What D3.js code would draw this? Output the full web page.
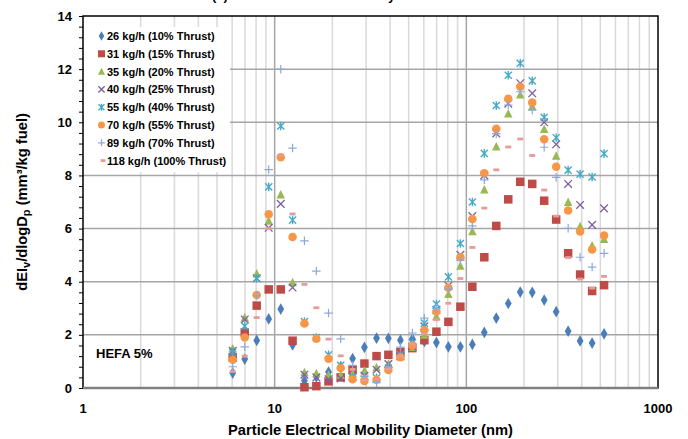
<!DOCTYPE html>
<html>
<head>
<meta charset="utf-8">
<script src="https://cdn.jsdelivr.net/npm/d3@7"></script>
<style>
  body { margin: 0; background: #fff; }
  svg text { font-family: Arial, "Liberation Sans", sans-serif; font-weight: bold; fill: #000; }
</style>
</head>
<body>
<svg id="chart"></svg>
<script>
// particle mobility diameter bins (nm), 16 per decade
const diam = [6.04, 6.98, 8.06, 9.31, 10.76, 12.4, 14.3, 16.5, 19.1, 22.1, 25.5, 29.4, 34.0, 39.2, 45.3, 52.3,
              60.4, 69.8, 80.6, 93.1, 107.5, 124.1, 143.3, 165.5, 191.1, 220.7, 254.8, 294.3, 339.8, 392.4, 453.2, 523.3];

// dEIv/dlogDp, one list per fuel flow
const s26  = [0.56,1.09,1.79,2.60,2.97,1.62,0.27,0.42,0.60,0.80,1.11,1.53,1.88,1.87,1.80,1.85,1.75,1.71,1.55,1.55,1.64,2.09,2.63,3.18,3.61,3.60,3.31,2.87,2.14,1.77,1.69,2.04];
const s31  = [1.15,2.09,3.10,3.71,3.71,1.78,0.03,0.07,0.25,0.40,0.68,0.92,1.20,1.25,1.35,1.50,1.80,2.12,2.49,3.06,3.81,4.92,6.10,7.10,7.76,7.68,7.05,6.34,5.07,4.27,3.65,3.87];
const s35  = [1.48,2.65,4.30,6.29,7.28,3.97,0.59,0.55,0.50,0.49,0.55,0.65,0.77,0.91,1.19,1.54,2.00,2.69,3.53,4.59,5.89,7.46,9.08,10.32,11.04,10.60,9.74,8.73,6.99,6.08,5.36,5.60];
const s40  = [1.40,2.58,4.13,6.03,6.93,3.78,0.50,0.40,0.33,0.36,0.42,0.46,0.69,0.90,1.20,1.56,2.32,2.94,3.85,5.01,6.47,8.00,9.58,10.70,11.47,11.09,10.00,9.17,7.68,6.89,6.14,6.76];
const s55  = [1.35,2.33,4.13,7.57,9.86,6.32,2.50,1.90,1.25,0.85,0.40,0.33,0.38,0.75,1.25,1.70,2.44,3.16,4.18,5.44,7.00,8.83,10.63,11.77,12.22,11.56,10.19,9.42,8.20,8.05,7.94,8.82];
const s70  = [1.06,1.90,3.50,6.54,8.68,5.68,2.43,1.85,1.10,0.75,0.33,0.26,0.31,0.68,1.16,1.60,2.17,2.88,3.77,4.92,6.36,8.08,9.76,10.89,11.34,10.74,9.36,8.33,6.68,5.89,5.21,5.74];
const s89  = [0.80,1.55,3.48,8.22,12.00,9.03,5.54,4.40,2.82,1.85,0.85,0.45,0.20,0.80,1.54,2.07,2.63,3.00,3.72,4.80,6.10,7.83,9.57,10.65,11.15,10.46,9.06,7.93,6.01,4.92,4.55,5.07];
const s118 = [0.62,1.20,2.65,6.00,8.76,6.55,3.90,3.02,1.84,1.21,0.70,0.30,0.35,0.71,1.21,1.66,2.05,2.57,3.19,4.12,5.29,6.77,8.21,9.07,9.37,8.75,7.45,6.47,4.91,4.10,3.76,4.20];

const seriesNames = ["26 kg/h (10% Thrust)", "31 kg/h (15% Thrust)", "35 kg/h (20% Thrust)", "40 kg/h (25% Thrust)",
                     "55 kg/h (40% Thrust)", "70 kg/h (55% Thrust)", "89 kg/h (70% Thrust)", "118 kg/h (100% Thrust)"];
const seriesValues = [s26, s31, s35, s40, s55, s70, s89, s118];
const seriesColors = ["#4A7EBB", "#BE4B48", "#98B954", "#7D60A0", "#46AAC5", "#F79646", "#8EA8DA", "#E59B9A"];
const seriesShapes = ["diamond", "square", "triangle", "x", "star", "circle", "plus", "dash"];

const xTicks = [1, 10, 100, 1000];
const yTicks = [0, 2, 4, 6, 8, 10, 12, 14];

const width = 688, height = 439;
const margin = {left: 83, right: 30, top: 16, bottom: 51};

const svg = d3.select("#chart").attr("width", width).attr("height", height);

const x = d3.scaleLog().domain([1, 1000]).range([margin.left, width - margin.right]);
const y = d3.scaleLinear().domain([0, 14]).range([height - margin.bottom, margin.top]);

// chart title, cut off by the top edge in the original as well
svg.append("text")
    .attr("x", 212).attr("y", 0)
    .style("font-size", "13px")
    .text("(a) Volume Emission Index by Size");

// gridlines
let grid = svg.append("g");
let minorX = [];
for (let dec of [1, 10, 100]) for (let m = 2; m <= 9; m++) minorX.push(dec * m);
grid.selectAll(".minor").data(minorX).enter().append("line")
    .attr("x1", d => x(d)).attr("x2", d => x(d))
    .attr("y1", y(14)).attr("y2", y(0))
    .attr("stroke", "#d9d9d9").attr("stroke-width", 1.5);
grid.selectAll(".majx").data([10, 100]).enter().append("line")
    .attr("x1", d => x(d)).attr("x2", d => x(d))
    .attr("y1", y(14)).attr("y2", y(0))
    .attr("stroke", "#a6a6a6").attr("stroke-width", 1.5);
grid.selectAll(".majy").data(yTicks.slice(1, -1)).enter().append("line")
    .attr("x1", x(1)).attr("x2", x(1000))
    .attr("y1", d => y(d)).attr("y2", d => y(d))
    .attr("stroke", "#a6a6a6").attr("stroke-width", 1.5);

// legend box hides the grid behind it
svg.append("rect")
    .attr("x", x(1) + 1).attr("y", 27)
    .attr("width", 146).attr("height", 145)
    .attr("fill", "#fff");

// axes
let yAxis = d3.axisLeft(y).tickValues(d3.range(0, 14.01, 0.4)).tickSize(4).tickFormat("");
svg.append("g").attr("transform", `translate(${x(1)},0)`).call(yAxis)
    .call(g => g.select(".domain").remove())
    .call(g => g.selectAll("line").attr("stroke", "#000"));

svg.append("g").selectAll("text").data(yTicks).enter().append("text")
    .attr("x", x(1) - 11).attr("y", d => y(d) + 4.5)
    .attr("text-anchor", "end")
    .style("font-size", "13px")
    .text(d => d);

svg.append("g").selectAll("text").data(xTicks).enter().append("text")
    .attr("x", d => x(d)).attr("y", y(0) + 25)
    .attr("text-anchor", "middle")
    .style("font-size", "13px")
    .text(d => d);

// plot frame
svg.append("rect")
    .attr("x", x(1)).attr("y", y(14))
    .attr("width", x(1000) - x(1)).attr("height", y(0) - y(14))
    .attr("fill", "none").attr("stroke", "#000").attr("stroke-width", 1.5);
svg.append("line")
    .attr("x1", x(1)).attr("x2", x(1000)).attr("y1", y(0)).attr("y2", y(0))
    .attr("stroke", "#808080").attr("stroke-width", 2.5);

// axis titles
svg.append("text")
    .attr("x", (x(1) + x(1000)) / 2).attr("y", 435)
    .attr("text-anchor", "middle")
    .style("font-size", "14.7px")
    .text("Particle Electrical Mobility Diameter (nm)");

let yt = svg.append("text")
    .attr("transform", `translate(27,${(y(0) + y(14)) / 2}) rotate(-90)`)
    .attr("text-anchor", "middle")
    .style("font-size", "14.7px");
yt.append("tspan").text("dEI");
yt.append("tspan").attr("dy", 3).style("font-size", "11px").text("v");
yt.append("tspan").attr("dy", -3).text("/dlogD");
yt.append("tspan").attr("dy", 3).style("font-size", "11px").text("p");
yt.append("tspan").attr("dy", -3).text(" (mm\u00B3/kg fuel)");

svg.append("text")
    .attr("x", 96).attr("y", 358)
    .style("font-size", "13px")
    .text("HEFA 5%");

// marker drawing
function drawMarker(g, shape, color, s) {
    if (shape === "diamond") {
        g.append("path").attr("d", d3.symbol(d3.symbolDiamond, s * s * 0.55)()).attr("fill", color);
    } else if (shape === "square") {
        g.append("rect").attr("x", -s / 2).attr("y", -s / 2).attr("width", s).attr("height", s).attr("fill", color);
    } else if (shape === "triangle") {
        g.append("path").attr("d", `M0,${-s * 0.55}L${s * 0.5},${s * 0.45}L${-s * 0.5},${s * 0.45}Z`).attr("fill", color);
    } else if (shape === "circle") {
        g.append("circle").attr("r", s / 2).attr("fill", color);
    } else if (shape === "x") {
        let h = s * 0.45;
        g.append("path").attr("d", `M${-h},${-h}L${h},${h}M${-h},${h}L${h},${-h}`)
            .attr("stroke", color).attr("stroke-width", 1.3).attr("fill", "none");
    } else if (shape === "star") {
        let h = s * 0.42;
        g.append("path").attr("d", `M${-h},${-h}L${h},${h}M${-h},${h}L${h},${-h}M0,${-h * 1.2}L0,${h * 1.2}`)
            .attr("stroke", color).attr("stroke-width", 1.4).attr("fill", "none");
    } else if (shape === "plus") {
        let h = s * 0.5;
        g.append("path").attr("d", `M${-h},0L${h},0M0,${-h}L0,${h}`)
            .attr("stroke", color).attr("stroke-width", 1.2).attr("fill", "none");
    } else if (shape === "dash") {
        g.append("rect").attr("x", -s * 0.35).attr("y", -1.4).attr("width", s * 0.7).attr("height", 2.8).attr("fill", color);
    }
}

// data points, in series order so later series sit on top
seriesValues.forEach((vals, k) => {
    let layer = svg.append("g").attr("class", "series");
    let pts = layer.selectAll("g").data(vals.map((v, i) => ({d: diam[i], v: v})))
        .enter().append("g")
        .attr("transform", d => `translate(${x(d.d)},${y(d.v)})`);
    pts.each(function () { drawMarker(d3.select(this), seriesShapes[k], seriesColors[k], 8.5); });
});

// legend
let legend = svg.append("g");
seriesNames.forEach((name, k) => {
    let ly = 36 + k * 17.8;
    let m = legend.append("g").attr("transform", `translate(${k === 7 ? 103 : 101.5},${ly})`);
    drawMarker(m, seriesShapes[k], seriesColors[k], 7);
    legend.append("text")
        .attr("x", 107).attr("y", ly + 4)
        .style("font-size", "11px")
        .text(name);
});
</script>
</body>
</html>
